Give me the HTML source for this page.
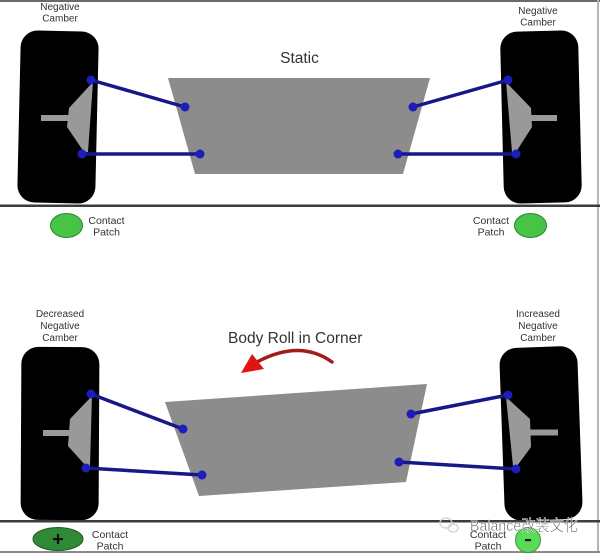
<!DOCTYPE html>
<html>
<head>
<meta charset="utf-8">
<style>
  html,body{margin:0;padding:0;background:#fff;}
  svg{display:block;}
  text{font-family:"Liberation Sans","Noto Sans CJK SC",sans-serif;fill:#333;}
</style>
</head>
<body>
<svg width="600" height="553" viewBox="0 0 600 553" xmlns="http://www.w3.org/2000/svg">
  <rect x="0" y="0" width="600" height="553" fill="#ffffff"/>
  <!-- frame -->
  <rect x="0" y="0" width="600" height="2" fill="#6a6a6a"/>
  <rect x="597" y="0" width="2" height="553" fill="#b5b5b5"/>
  <rect x="0" y="551" width="600" height="2" fill="#8a8a8a"/>

  <!-- ===== TOP (STATIC) ===== -->
  <text x="60" y="10" font-size="10" text-anchor="middle">Negative</text>
  <text x="60" y="21.5" font-size="10" text-anchor="middle">Camber</text>
  <text x="538" y="14" font-size="10" text-anchor="middle">Negative</text>
  <text x="538" y="25.5" font-size="10" text-anchor="middle">Camber</text>
  <text x="299.5" y="63" font-size="15.5" text-anchor="middle" fill="#222">Static</text>

  <!-- body -->
  <polygon points="168,78 430,78 403,174 195,174" fill="#8c8c8c"/>

  <!-- left tire -->
  <rect x="19" y="31" width="78" height="172" rx="17" fill="#000" transform="rotate(1.3 58 117)"/>
  <polygon points="93,82 69,108 67,127 84,152 88,152" fill="#999"/>
  <rect x="41" y="115" width="28" height="6" fill="#999"/>

  <!-- right tire -->
  <rect x="502" y="31" width="78" height="172" rx="17" fill="#000" transform="rotate(-1.4 541 117)"/>
  <polygon points="506,82 531,108 532,127 516,152 512,152" fill="#999"/>
  <rect x="531" y="115" width="26" height="6" fill="#999"/>

  <!-- links top -->
  <g stroke="#17178a" stroke-width="3.5" stroke-linecap="round">
    <line x1="91" y1="80" x2="185" y2="107"/>
    <line x1="82" y1="154" x2="200" y2="154"/>
    <line x1="508" y1="80" x2="413" y2="107"/>
    <line x1="516" y1="154" x2="398" y2="154"/>
  </g>
  <g fill="#1d1dba">
    <circle cx="91" cy="80" r="4.5"/>
    <circle cx="82" cy="154" r="4.5"/>
    <circle cx="185" cy="107" r="4.5"/>
    <circle cx="200" cy="154" r="4.5"/>
    <circle cx="508" cy="80" r="4.5"/>
    <circle cx="516" cy="154" r="4.5"/>
    <circle cx="413" cy="107" r="4.5"/>
    <circle cx="398" cy="154" r="4.5"/>
  </g>

  <!-- divider top -->
  <rect x="0" y="204.5" width="600" height="2.5" fill="#3c3c3c"/>

  <!-- contact patches top -->
  <ellipse cx="66.5" cy="225.5" rx="16" ry="12" fill="#46c446" stroke="#2f7f2f" stroke-width="1"/>
  <text x="106.5" y="224" font-size="10.5" text-anchor="middle">Contact</text>
  <text x="106.5" y="235.5" font-size="10.5" text-anchor="middle">Patch</text>
  <ellipse cx="530.5" cy="225.5" rx="16" ry="12" fill="#46c446" stroke="#2f7f2f" stroke-width="1"/>
  <text x="491" y="224" font-size="10.5" text-anchor="middle">Contact</text>
  <text x="491" y="235.5" font-size="10.5" text-anchor="middle">Patch</text>

  <!-- ===== BOTTOM (BODY ROLL) ===== -->
  <text x="60" y="317" font-size="10" text-anchor="middle">Decreased</text>
  <text x="60" y="329" font-size="10" text-anchor="middle">Negative</text>
  <text x="60" y="341" font-size="10" text-anchor="middle">Camber</text>
  <text x="538" y="317" font-size="10" text-anchor="middle">Increased</text>
  <text x="538" y="329" font-size="10" text-anchor="middle">Negative</text>
  <text x="538" y="341" font-size="10" text-anchor="middle">Camber</text>

  <text x="228" y="343" font-size="15.5" fill="#222">Body Roll in Corner</text>

  <!-- red arrow -->
  <path d="M332,362 Q300,339 257,362" fill="none" stroke="#a31c1c" stroke-width="3.5" stroke-linecap="round"/>
  <polygon points="241,373 252,354 264,369" fill="#e01414"/>

  <!-- body rolled -->
  <polygon points="165,402 427,384 406,482 199,496" fill="#8c8c8c"/>

  <!-- left tire bottom -->
  <rect x="21" y="347" width="78" height="173" rx="17" fill="#000" transform="rotate(0.3 60 433)"/>
  <polygon points="92,396 70,419 68,446 86,466 90,466" fill="#999"/>
  <rect x="43" y="430" width="27" height="6" fill="#999"/>

  <!-- right tire bottom -->
  <rect x="502" y="347" width="78" height="173" rx="17" fill="#000" transform="rotate(-2 541 433)"/>
  <polygon points="506,397 530,419 531,447 517,466 513,466" fill="#999"/>
  <rect x="530" y="429.5" width="28" height="6" fill="#999"/>

  <!-- links bottom -->
  <g stroke="#17178a" stroke-width="3.5" stroke-linecap="round">
    <line x1="91" y1="394" x2="183" y2="429"/>
    <line x1="86" y1="468" x2="202" y2="475"/>
    <line x1="508" y1="395" x2="411" y2="414"/>
    <line x1="516" y1="469" x2="399" y2="462"/>
  </g>
  <g fill="#1d1dba">
    <circle cx="91" cy="394" r="4.5"/>
    <circle cx="86" cy="468" r="4.5"/>
    <circle cx="183" cy="429" r="4.5"/>
    <circle cx="202" cy="475" r="4.5"/>
    <circle cx="508" cy="395" r="4.5"/>
    <circle cx="516" cy="469" r="4.5"/>
    <circle cx="411" cy="414" r="4.5"/>
    <circle cx="399" cy="462" r="4.5"/>
  </g>

  <!-- divider bottom -->
  <rect x="0" y="520" width="600" height="2.5" fill="#3c3c3c"/>

  <!-- contact patches bottom -->
  <ellipse cx="58" cy="539" rx="25" ry="11.5" fill="#2e8a36" stroke="#1e5e24" stroke-width="1"/>
  <rect x="53" y="538" width="10" height="2.2" fill="#111"/>
  <rect x="56.9" y="534" width="2.2" height="10" fill="#111"/>
  <text x="110" y="538" font-size="10.5" text-anchor="middle">Contact</text>
  <text x="110" y="549.5" font-size="10.5" text-anchor="middle">Patch</text>

  <circle cx="528" cy="540" r="12.5" fill="#58dc58" stroke="#3a9a3a" stroke-width="1"/>
  <rect x="525" y="539" width="6" height="2.2" fill="#111"/>
  <text x="488" y="538" font-size="10.5" text-anchor="middle">Contact</text>
  <text x="488" y="549.5" font-size="10.5" text-anchor="middle">Patch</text>

  <!-- watermark -->
  <g opacity="0.85">
    <ellipse cx="446" cy="523" rx="6" ry="5" fill="none" stroke="#d0d0d0" stroke-width="1.5"/>
    <ellipse cx="453" cy="528" rx="5" ry="4" fill="none" stroke="#d0d0d0" stroke-width="1.5"/>
    <text x="470" y="531" font-size="16" fill="#c9c9c9" stroke="#ffffff" stroke-width="0.6" textLength="108" lengthAdjust="spacingAndGlyphs">Balance改装文化</text>
  </g>
</svg>
</body>
</html>
